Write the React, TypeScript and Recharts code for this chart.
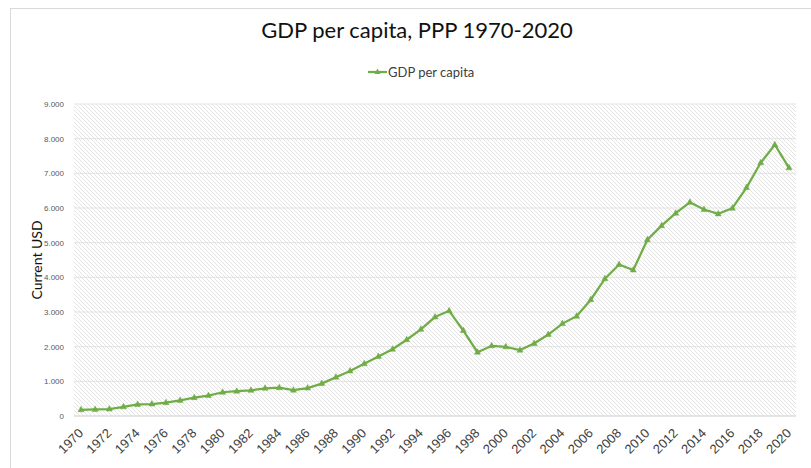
import React from 'react';
import { LineChart, Line, XAxis, YAxis, CartesianGrid, Legend, Label } from 'recharts';

const years = [
  '1970', '1971', '1972', '1973', '1974', '1975', '1976', '1977', '1978', '1979',
  '1980', '1981', '1982', '1983', '1984', '1985', '1986', '1987', '1988', '1989',
  '1990', '1991', '1992', '1993', '1994', '1995', '1996', '1997', '1998', '1999',
  '2000', '2001', '2002', '2003', '2004', '2005', '2006', '2007', '2008', '2009',
  '2010', '2011', '2012', '2013', '2014', '2015', '2016', '2017', '2018', '2019',
  '2020',
];

const gdpPerCapita = [
  180, 190, 200, 265, 335, 345, 385, 450, 530, 590,
  685, 715, 740, 800, 815, 745, 805, 935, 1120, 1300,
  1505, 1715, 1925, 2200, 2500, 2855, 3035, 2465, 1840, 2025,
  1995, 1900, 2090, 2350, 2665, 2880, 3355, 3960, 4370, 4210,
  5085, 5490, 5850, 6165, 5955, 5830, 5995, 6590, 7305, 7825,
  7160,
];

const yTicks = [0, 1000, 2000, 3000, 4000, 5000, 6000, 7000, 8000, 9000];

const data = years.map((year, i) => ({ year, gdp: gdpPerCapita[i] }));

const GREEN = '#70AD47';
const SANS = 'Lato, "Noto Sans", sans-serif';
const TICK_FONT = '"Liberation Sans", Arial, sans-serif';

// 1000 -> "1.000"
const formatThousands = (v: number) => String(v).replace(/\B(?=(\d{3})+(?!\d))/g, '.');

const Triangle = (props: any) => {
  const { cx, cy } = props;
  if (cx == null || cy == null) return null;
  return (
    <polygon
      points={`${cx},${cy - 3.5} ${cx - 3},${cy + 2} ${cx + 3},${cy + 2}`}
      fill={GREEN}
      stroke={GREEN}
      strokeWidth={0.5}
    />
  );
};

const YearTick = (props: any) => {
  const { x, y, payload } = props;
  return (
    <g transform={`translate(${x + 3},${y + 10})`}>
      <text textAnchor="end" transform="rotate(-45)" fontSize={13} fill="#404040" fontFamily={TICK_FONT}>
        {payload.value}
      </text>
    </g>
  );
};

const LegendContent = () => (
  <div style={{ display: 'flex', alignItems: 'center', height: 20 }}>
    <svg width={19} height={10} style={{ marginRight: 1 }}>
      <line x1={0} y1={5} x2={19} y2={5} stroke={GREEN} strokeWidth={2.25} />
      <polygon points="9.5,1.5 6.5,7 12.5,7" fill={GREEN} />
    </svg>
    <span style={{ fontFamily: SANS, fontSize: 13, color: '#404040' }}>GDP per capita</span>
  </div>
);

export default function App() {
  return (
    <div style={{ position: 'absolute', left: 0, top: 0, width: 811, height: 468, background: '#fff' }}>
      <div
        style={{
          position: 'absolute', left: 10, top: 8, width: 801, height: 460,
          borderTop: '1px solid #d9d9d9', borderLeft: '1px solid #d9d9d9',
        }}
      />
      <div
        style={{
          position: 'absolute', left: 217, top: 19, width: 400, textAlign: 'center',
          fontFamily: SANS, fontSize: 22, lineHeight: 1, color: '#111',
        }}
      >
        GDP per capita, PPP 1970-2020
      </div>
      <div style={{ position: 'absolute', left: 0, top: 0 }}>
        <LineChart width={811} height={468} data={data} margin={{ top: 84, right: 15, bottom: 0, left: 0 }}>
          <defs>
            <pattern id="hatch" width="4" height="4" patternUnits="userSpaceOnUse">
              <rect width="4" height="4" fill="#fff" />
              <path d="M-1,-1 L5,5 M3,-1 L5,1 M-1,3 L1,5" stroke="#e4e4e4" strokeWidth="1" />
            </pattern>
          </defs>
          <CartesianGrid vertical={false} fill="url(#hatch)" stroke="#e3e3e3" />
          <XAxis
            dataKey="year"
            interval={1}
            padding={{ left: 7, right: 7 }}
            height={52}
            tickLine={false}
            axisLine={{ stroke: '#d9d9d9' }}
            tick={<YearTick />}
          />
          <YAxis
            domain={[0, 9000]}
            ticks={yTicks}
            width={74}
            axisLine={false}
            tickLine={false}
            tickMargin={4}
            tickFormatter={formatThousands}
            tick={{ fontSize: 8, fill: '#595959', fontFamily: TICK_FONT }}
          >
            <Label value="Current USD" angle={-90} position="center" style={{ fontFamily: SANS, fontSize: 14, fill: '#111' }} />
          </YAxis>
          <Legend
            verticalAlign="top"
            height={20}
            wrapperStyle={{ top: 62, left: 368, width: 120, height: 20 }}
            content={<LegendContent />}
          />
          <Line
            dataKey="gdp"
            name="GDP per capita"
            stroke={GREEN}
            strokeWidth={2.25}
            dot={<Triangle />}
            activeDot={false}
            isAnimationActive={false}
          />
        </LineChart>
      </div>
    </div>
  );
}
